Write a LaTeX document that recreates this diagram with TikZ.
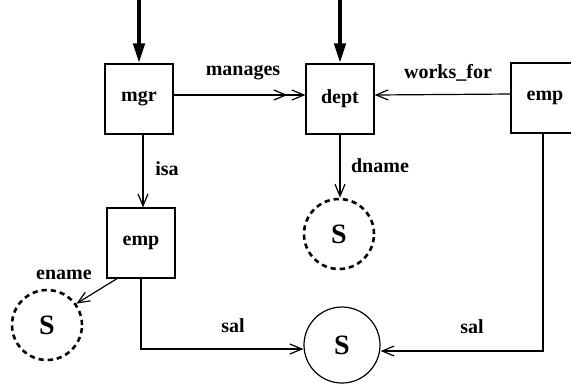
\documentclass[tikz,border=0pt]{standalone}
\usepackage{fontspec}
\setmainfont{Liberation Serif}
\usetikzlibrary{arrows.meta, positioning}

\begin{document}
\begin{tikzpicture}[x=0.5pt, y=-0.5pt,
    box/.style={rectangle, draw, line width=0.6pt, minimum width=34pt, minimum height=35pt, font=\bfseries},
    dashset/.style={circle, draw, line width=1.3pt, dash pattern=on 2.6pt off 2pt, minimum size=35pt, inner sep=0pt, font=\fontsize{14}{16}\selectfont\bfseries},
    solidset/.style={circle, draw, line width=0.6pt, minimum size=38pt, inner sep=0pt, font=\fontsize{14}{16}\selectfont\bfseries},
    lbl/.style={font=\bfseries},
    arrow/.style={-{Straight Barb[length=6pt, width=5pt]}, line width=0.6pt},
    inarrow/.style={-{Triangle[length=10pt, width=5.5pt]}, line width=2.2pt}
]
\useasboundingbox (0,0) rectangle (571,388);

\node[box] (mgr) at (139,99) {mgr};
\node[box] (dept) at (340,99) {dept};
\node[box] (emptop) at (545,98) {emp};
\node[box] (emp) at (141,243) {emp};
\node[dashset] (dnameval) at (339,234) {S};
\node[dashset] (enameval) at (47,325) {S};
\node[solidset] (salval) at (342,345) {S};

\coordinate (mgrin) at (139,0);
\coordinate (deptin) at (340,0);
\coordinate (managesmid) at ([xshift=-9pt, yshift=2pt]dept.west);

\node[lbl] (manages) at (243,73) {manages};
\node[lbl] (worksfor) at (448,73) {works\_for};
\node[lbl] (isa) at (167,169) {isa};
\node[lbl] (dname) at (380,166) {dname};
\node[lbl] (ename) at (64,275) {ename};
\node[lbl] (sal1) at (233,326) {sal};
\node[lbl] (sal2) at (472,327) {sal};

\draw[inarrow] (mgrin) -- (mgr);
\draw[inarrow] (deptin) -- (dept);
\draw[arrow] ([yshift=2pt]mgr.east) -- ([yshift=2pt]dept.west);
\draw[arrow] ([yshift=2pt]mgr.east) -- (managesmid);
\draw[arrow] ([yshift=2pt]emptop.west) -- ([yshift=2pt]dept.east);
\draw[arrow] ([xshift=2pt]mgr.south) -- ([xshift=2pt]mgr.south |- emp.north);
\draw[arrow] (dept.south) -- (dept.south |- dnameval.north);
\draw[arrow] (emp.236) -- (enameval.36);
\draw[arrow] (emp.south) |- ([yshift=-2pt]salval.west);
\draw[arrow] ([xshift=-1pt]emptop.south) |- ([yshift=-3pt]salval.east);

\end{tikzpicture}
\end{document}
